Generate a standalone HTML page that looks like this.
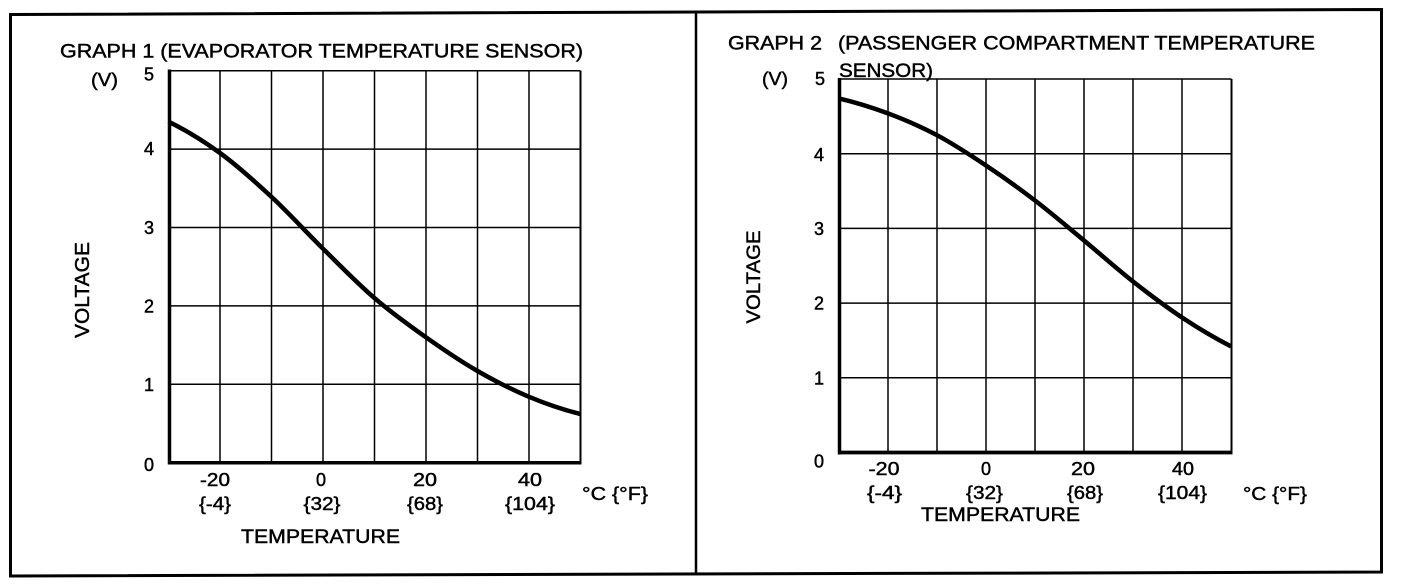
<!DOCTYPE html>
<html>
<head>
<meta charset="utf-8">
<style>
  html,body{margin:0;padding:0;background:#fff;}
  svg{display:block;}
  text{font-family:"Liberation Sans",Arial,sans-serif;fill:#000;stroke:#000;stroke-width:0.45px;}
</style>
</head>
<body>
<svg width="1408" height="586" viewBox="0 0 1408 586" xmlns="http://www.w3.org/2000/svg">
  <rect x="0" y="0" width="1408" height="586" fill="#fff"/>

  <!-- outer frame -->
  <polygon points="10.5,14.5 1381.5,9.5 1381.5,572 10.5,576" fill="none" stroke="#000" stroke-width="3"/>
  <line x1="696" y1="12" x2="696" y2="574" stroke="#000" stroke-width="2.5"/>

  <!-- ================= GRAPH 1 ================= -->
  <g stroke="#000" stroke-width="1.5" fill="none">
    <line x1="220" y1="70.7" x2="220" y2="462.7"/>
    <line x1="271.5" y1="70.7" x2="271.5" y2="462.7"/>
    <line x1="323" y1="70.7" x2="323" y2="462.7"/>
    <line x1="374.5" y1="70.7" x2="374.5" y2="462.7"/>
    <line x1="426" y1="70.7" x2="426" y2="462.7"/>
    <line x1="477.5" y1="70.7" x2="477.5" y2="462.7"/>
    <line x1="529" y1="70.7" x2="529" y2="462.7"/>
    <line x1="580.5" y1="70.7" x2="580.5" y2="462.7" stroke-width="2"/>
    <line x1="169" y1="70.7" x2="580.5" y2="70.7"/>
    <line x1="169" y1="149.1" x2="580.5" y2="149.1"/>
    <line x1="169" y1="227.5" x2="580.5" y2="227.5"/>
    <line x1="169" y1="305.9" x2="580.5" y2="305.9"/>
    <line x1="169" y1="384.3" x2="580.5" y2="384.3"/>
  </g>
  <line x1="169.5" y1="69.5" x2="169.5" y2="464.5" stroke="#000" stroke-width="3.5"/>
  <line x1="168" y1="462.7" x2="581.5" y2="462.7" stroke="#000" stroke-width="3.5"/>
  <path d="M168.5,121.7 C185.67,130.03 202.83,140.47 220.0,153.0 C237.17,165.53 254.33,180.95 271.5,196.9 C288.67,212.85 305.83,231.83 323.0,248.7 C340.17,265.57 357.33,283.33 374.5,298.1 C391.67,312.87 408.83,325.15 426.0,337.3 C443.17,349.45 460.33,361.08 477.5,371.0 C494.67,380.92 511.83,389.62 529.0,396.8 C546.17,403.98 563.33,409.75 580.5,414.1" fill="none" stroke="#000" stroke-width="4.5"/>

  <text x="60" y="57.5" font-size="19.5" textLength="523" lengthAdjust="spacingAndGlyphs">GRAPH 1 (EVAPORATOR TEMPERATURE SENSOR)</text>
  <text x="91" y="86" font-size="18" textLength="27" lengthAdjust="spacingAndGlyphs">(V)</text>
  <g font-size="18" text-anchor="middle">
    <text x="149" y="80.5">5</text>
    <text x="149" y="155">4</text>
    <text x="149" y="234">3</text>
    <text x="149" y="312.5">2</text>
    <text x="149" y="391">1</text>
    <text x="149" y="471">0</text>
  </g>
  <text transform="translate(89,290) rotate(-90)" font-size="20" text-anchor="middle" textLength="96" lengthAdjust="spacingAndGlyphs">VOLTAGE</text>
  <g font-size="18" text-anchor="middle">
    <text x="215" y="486" textLength="30" lengthAdjust="spacingAndGlyphs">-20</text>
    <text x="321" y="486">0</text>
    <text x="425" y="486" textLength="24" lengthAdjust="spacingAndGlyphs">20</text>
    <text x="530" y="486" textLength="24" lengthAdjust="spacingAndGlyphs">40</text>
    <text x="215" y="510" textLength="32" lengthAdjust="spacingAndGlyphs">{-4}</text>
    <text x="322" y="510" textLength="37" lengthAdjust="spacingAndGlyphs">{32}</text>
    <text x="425" y="510" textLength="36" lengthAdjust="spacingAndGlyphs">{68}</text>
    <text x="530" y="510" textLength="50" lengthAdjust="spacingAndGlyphs">{104}</text>
  </g>
  <text x="582" y="500" font-size="18" textLength="66" lengthAdjust="spacingAndGlyphs">°C {°F}</text>
  <text x="241" y="543" font-size="19.5" textLength="159" lengthAdjust="spacingAndGlyphs">TEMPERATURE</text>

  <!-- ================= GRAPH 2 ================= -->
  <g stroke="#000" stroke-width="1.5" fill="none">
    <line x1="888" y1="79" x2="888" y2="452.5"/>
    <line x1="937" y1="79" x2="937" y2="452.5"/>
    <line x1="986" y1="79" x2="986" y2="452.5"/>
    <line x1="1035" y1="79" x2="1035" y2="452.5"/>
    <line x1="1084" y1="79" x2="1084" y2="452.5"/>
    <line x1="1133" y1="79" x2="1133" y2="452.5"/>
    <line x1="1182" y1="79" x2="1182" y2="452.5"/>
    <line x1="1231.5" y1="79" x2="1231.5" y2="452.5" stroke-width="2"/>
    <line x1="839" y1="79" x2="1231.5" y2="79"/>
    <line x1="839" y1="153.7" x2="1231.5" y2="153.7"/>
    <line x1="839" y1="228.4" x2="1231.5" y2="228.4"/>
    <line x1="839" y1="303.1" x2="1231.5" y2="303.1"/>
    <line x1="839" y1="377.8" x2="1231.5" y2="377.8"/>
  </g>
  <line x1="839.5" y1="78" x2="839.5" y2="454.5" stroke="#000" stroke-width="3.5"/>
  <line x1="838" y1="452.5" x2="1232.5" y2="452.5" stroke="#000" stroke-width="3.8"/>
  <path d="M839,98.4 C855.33,102.27 871.67,107.27 888,113.4 C904.33,119.53 920.67,126.52 937,135.2 C953.33,143.88 969.67,154.62 986,165.5 C1002.33,176.38 1018.67,188.0 1035,200.5 C1051.33,213.0 1067.67,227.0 1084,240.5 C1100.33,254.0 1116.67,268.67 1133,281.5 C1149.33,294.33 1165.67,306.68 1182,317.5 C1198.33,328.32 1214.67,337.95 1231,346.4" fill="none" stroke="#000" stroke-width="4.5"/>

  <text x="728" y="49.5" font-size="19.5" textLength="94" lengthAdjust="spacingAndGlyphs">GRAPH 2</text>
  <text x="838" y="49.5" font-size="19.5" textLength="477" lengthAdjust="spacingAndGlyphs">(PASSENGER COMPARTMENT TEMPERATURE</text>
  <text x="839" y="77" font-size="19.5" textLength="94" lengthAdjust="spacingAndGlyphs">SENSOR)</text>
  <text x="762" y="85" font-size="18" textLength="26" lengthAdjust="spacingAndGlyphs">(V)</text>
  <g font-size="18" text-anchor="middle">
    <text x="820" y="85">5</text>
    <text x="819" y="161">4</text>
    <text x="819" y="235">3</text>
    <text x="819" y="309.5">2</text>
    <text x="819" y="384.5">1</text>
    <text x="819" y="467.5">0</text>
  </g>
  <text transform="translate(760,277) rotate(-90)" font-size="19.5" text-anchor="middle" textLength="93" lengthAdjust="spacingAndGlyphs">VOLTAGE</text>
  <g font-size="18" text-anchor="middle">
    <text x="884" y="475" textLength="31" lengthAdjust="spacingAndGlyphs">-20</text>
    <text x="986" y="475">0</text>
    <text x="1083" y="475" textLength="24" lengthAdjust="spacingAndGlyphs">20</text>
    <text x="1183" y="475" textLength="22" lengthAdjust="spacingAndGlyphs">40</text>
    <text x="884.5" y="499" textLength="35" lengthAdjust="spacingAndGlyphs">{-4}</text>
    <text x="984.5" y="499" textLength="37" lengthAdjust="spacingAndGlyphs">{32}</text>
    <text x="1085" y="499" textLength="36" lengthAdjust="spacingAndGlyphs">{68}</text>
    <text x="1182.5" y="499" textLength="49" lengthAdjust="spacingAndGlyphs">{104}</text>
  </g>
  <text x="1243" y="500" font-size="18" textLength="64" lengthAdjust="spacingAndGlyphs">°C {°F}</text>
  <text x="921" y="521" font-size="19.5" textLength="159" lengthAdjust="spacingAndGlyphs">TEMPERATURE</text>
</svg>
</body>
</html>
